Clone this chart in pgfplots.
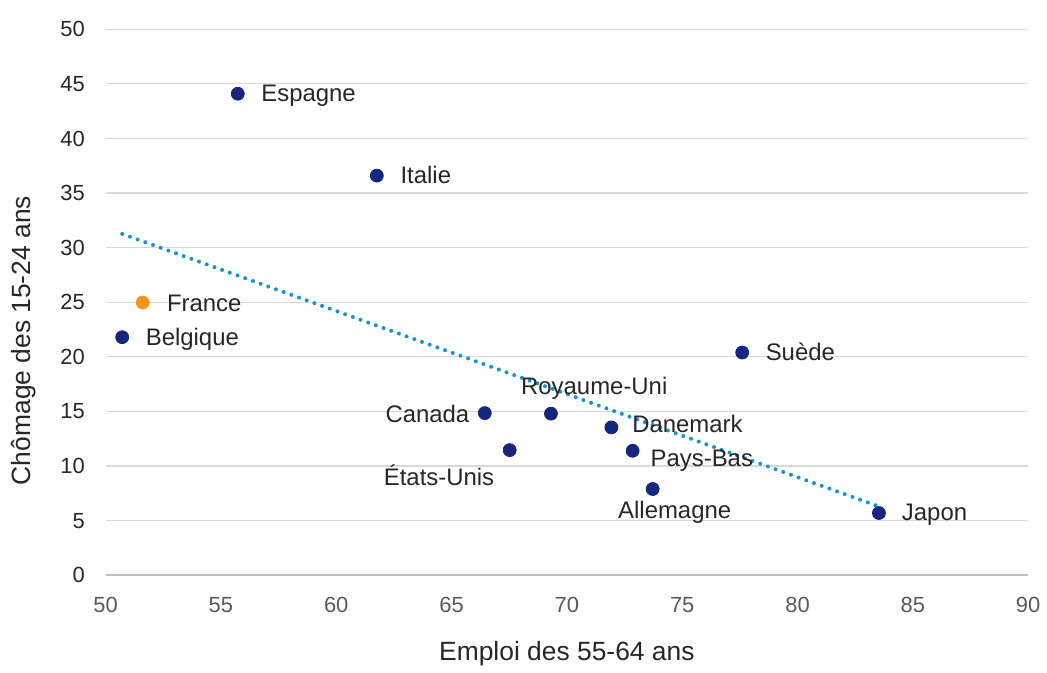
\documentclass[border=0pt]{standalone}
\usepackage{pgfplots}
\pgfplotsset{compat=1.18}
\usepackage{pgfplotstable}
\usepackage{fontspec}
\setmainfont{Liberation Sans}
\definecolor{navy}{HTML}{14267F}
\definecolor{orng}{HTML}{F7941D}
\definecolor{trend}{HTML}{1591D5}
\definecolor{gridc}{HTML}{D9D9D9}
\definecolor{axisc}{HTML}{BFBFBF}
\definecolor{txt}{HTML}{262626}
\definecolor{xtick}{HTML}{595959}

\pgfplotstableread{
x y label dx dy
55.73 44.1 Espagne 11.65 -4.0
61.76 36.6 Italie 11.7 -4.15
50.72 21.8 Belgique 11.65 -4.35
77.60 20.4 Suède 11.65 -4.2
66.44 14.85 Canada -50 -4.5
69.31 14.8 Royaume-Uni -15.15 9.65
71.93 13.54 Danemark 10.3 -2.35
67.52 11.46 États-Unis -63.35 -18
72.85 11.4 Pays-Bas 8.85 -8
73.72 7.9 Allemagne -17.5 -15
83.53 5.7 Japon 11.35 -4
}\navypts

\pgfplotstableread{
x y label dx dy
51.61 24.98 France 12.0 -4.35
}\francepts

\begin{document}
\begin{tikzpicture}
\begin{axis}[
  width=463pt, height=274pt, scale only axis,
  xmin=50, xmax=90, ymin=0, ymax=50,
  xtick={50,55,...,90}, ytick={0,5,...,50},
  axis line style={draw=none},
  major tick length=0pt,
  ymajorgrids, grid style={draw=gridc, line width=0.6pt},
  extra y ticks={0}, extra y tick labels={},
  extra y tick style={major grid style={draw=axisc, line width=0.8pt}},
  /pgf/number format/assume math mode=true,
  tick label style={font=\fontsize{11}{13}\selectfont},
  xticklabel style={text=xtick, yshift=-7.6pt},
  yticklabel style={text=txt, xshift=-6.9pt},
  xlabel={Emploi des 55-64 ans},
  ylabel={Chômage des 15-24 ans},
  label style={font=\fontsize{13.25}{15}\selectfont, text=txt},
  xlabel style={at={(axis description cs:0.5,-0.1562)}, anchor=base},
  ylabel style={at={(axis description cs:-0.0814,0.43)}, anchor=base},
  clip=false,
  every node near coord/.style={anchor=base west, inner sep=0pt,
     font=\fontsize{12}{14}\selectfont, text=txt,
     xshift=\labdx pt, yshift=\labdy pt},
]
\addplot[trend, line width=2pt, line cap=round, dash pattern=on 0pt off 4.1pt]
  coordinates {(50.72,31.26) (83.53,6.3)};
\addplot[only marks, mark=*, mark size=3.25pt, mark options={draw=navy, fill=navy},
  point meta=explicit symbolic, nodes near coords,
  visualization depends on={\thisrow{dx}\as\labdx},
  visualization depends on={\thisrow{dy}\as\labdy}]
  table[x=x, y=y, meta=label] {\navypts};
\addplot[only marks, mark=*, mark size=3.25pt, mark options={draw=orng, fill=orng},
  point meta=explicit symbolic, nodes near coords,
  visualization depends on={\thisrow{dx}\as\labdx},
  visualization depends on={\thisrow{dy}\as\labdy}]
  table[x=x, y=y, meta=label] {\francepts};
\end{axis}
\path[use as bounding box] (-53pt,-45.3pt) rectangle (470.5pt,288.7pt);
\end{tikzpicture}
\end{document}
